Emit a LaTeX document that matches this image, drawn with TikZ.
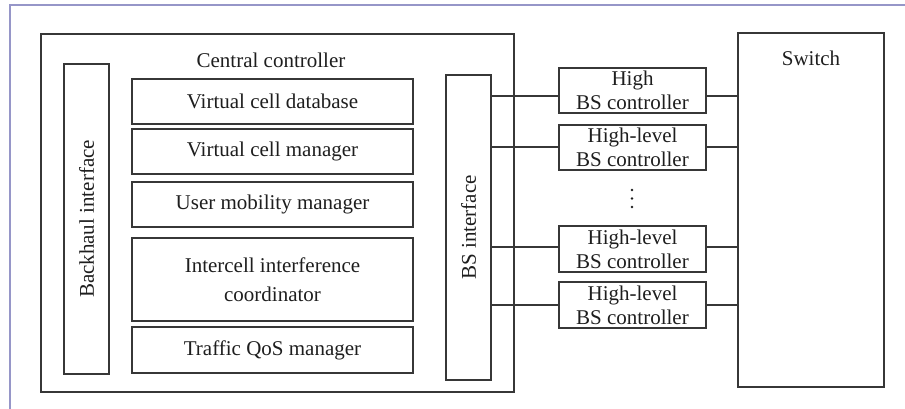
\documentclass[tikz,border=0pt]{standalone}
\usepackage{fontspec}
\setmainfont{Liberation Serif}
\definecolor{linec}{RGB}{55,55,55}
\definecolor{textc}{RGB}{30,30,30}
\definecolor{framec}{RGB}{150,150,200}
\begin{document}
\begin{tikzpicture}[x=1pt,y=-1pt,
  every node/.style={text=textc,font=\fontsize{21}{24}\selectfont,inner sep=0pt},
  box/.style={draw=linec,line width=1.3pt,align=center},
  conn/.style={draw=linec,line width=1.3pt}]
\useasboundingbox (0,0) rectangle (905,409);
\draw[framec,line width=1.5pt] (10,409) -- (10,5) -- (905,5);
% central controller
\node[box,minimum width=473pt,minimum height=358pt] (cc) at (277.5,213) {};
\node (cclbl) at (271,60) {Central controller};
\node[box,minimum width=45pt,minimum height=310pt] (bh) at (86.5,219) {};
\node[rotate=90] (bhlbl) at (bh.center) {Backhaul interface};
\node[box,minimum width=281pt,minimum height=45pt] (m1) at (272.5,101.5) {Virtual cell database};
\node[box,minimum width=281pt,minimum height=45pt] (m2) at (272.5,151.5) {Virtual cell manager};
\node[box,minimum width=281pt,minimum height=45pt] (m3) at (272.5,204.5) {User mobility manager};
\node[box,minimum width=281pt,minimum height=83pt,font=\fontsize{21}{29}\selectfont] (m4) at (272.5,279.5) {Intercell interference\\coordinator};
\node[box,minimum width=281pt,minimum height=46pt] (m5) at (272.5,350) {Traffic QoS manager};
\node[box,minimum width=45pt,minimum height=305pt] (bsi) at (468.5,227.5) {};
\node[rotate=90] (bsilbl) at (bsi.center) {BS interface};
% BS controllers
\node[box,minimum width=147pt,minimum height=45pt] (c1) at (632.5,90.5) {High\\BS controller};
\node[box,minimum width=147pt,minimum height=45pt] (c2) at (632.5,147.5) {High-level\\BS controller};
\node[box,minimum width=147pt,minimum height=46pt] (c3) at (632.5,249) {High-level\\BS controller};
\node[box,minimum width=147pt,minimum height=46pt] (c4) at (632.5,305) {High-level\\BS controller};
\foreach \yy in {190,198.5,207} \fill[textc] (632,\yy) circle (1.3pt);
% switch
\node[box,minimum width=146pt,minimum height=354pt] (sw) at (811,210) {};
\node (swlbl) at (811,58) {Switch};
% connectors
\coordinate (p1) at ([yshift=-5.5pt]c1.west);
\coordinate (q1) at ([yshift=-5.5pt]c1.east);
\draw[conn] (p1) -- (p1 -| bsi.east);
\draw[conn] (q1) -- (q1 -| sw.west);
\coordinate (p2) at ([yshift=0.5pt]c2.west);
\coordinate (q2) at ([yshift=0.5pt]c2.east);
\draw[conn] (p2) -- (p2 -| bsi.east);
\draw[conn] (q2) -- (q2 -| sw.west);
\coordinate (p3) at ([yshift=2pt]c3.west);
\coordinate (q3) at ([yshift=2pt]c3.east);
\draw[conn] (p3) -- (p3 -| bsi.east);
\draw[conn] (q3) -- (q3 -| sw.west);
\draw[conn] (c4.west) -- (c4.west -| bsi.east);
\draw[conn] (c4.east) -- (c4.east -| sw.west);
\end{tikzpicture}
\end{document}
